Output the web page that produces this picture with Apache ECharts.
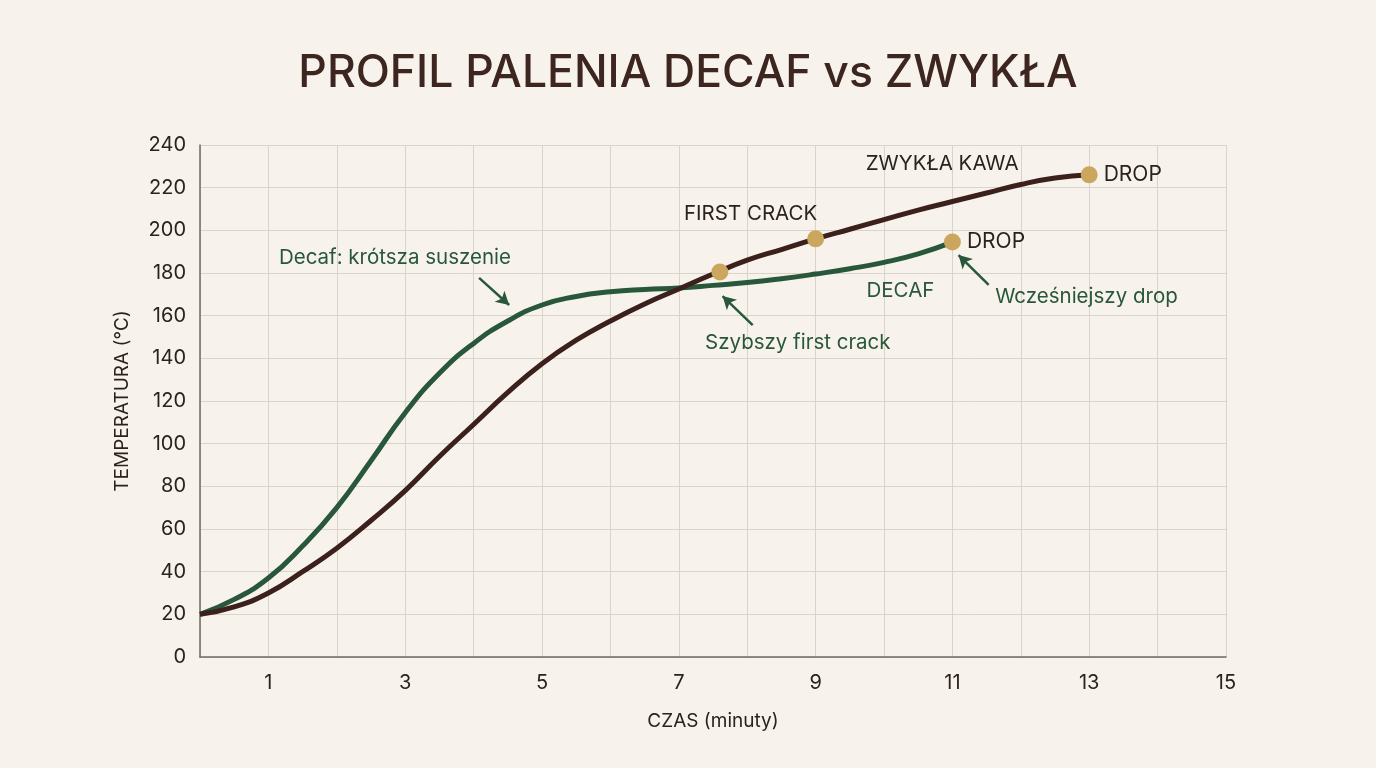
<!DOCTYPE html>
<html>
<head>
<meta charset="utf-8">
<script src="https://cdn.jsdelivr.net/npm/echarts@6/dist/echarts.min.js"></script>
<style>
  html, body { margin: 0; padding: 0; background: #f7f3ec; }
  #chart { width: 1376px; height: 768px; }
</style>
</head>
<body>
<div id="chart"></div>
<script>
// czas (minuty) / temperatura (°C), co pół minuty
const regularX = [0, 0.5, 1, 1.5, 2, 2.5, 3, 3.5, 4, 4.5, 5, 5.5, 6, 6.5, 7, 7.5, 8, 8.5, 9, 9.5, 10, 10.5, 11, 11.5, 12, 12.5, 13]
const regularY = [20, 23.5, 30, 40, 51, 64, 78, 94, 109, 124, 137.5, 148.5, 157.5, 165.5, 172.5, 179.5, 186, 191, 196, 200.5, 205, 209.5, 213.5, 217.5, 221.5, 224.5, 226]

const decafX = [0, 0.5, 1, 1.5, 2, 2.5, 3, 3.5, 4, 4.5, 5, 5.5, 6, 6.5, 7, 7.5, 8, 8.5, 9, 9.5, 10, 10.5, 11]
const decafY = [20, 27, 37, 52, 70, 92, 114.5, 133, 147, 157.5, 165, 169, 171.2, 172.3, 173, 174.2, 175.5, 177.3, 179.5, 182, 185, 189, 194.5]

// punkty: first crack decaf, first crack zwykła, drop decaf, drop zwykła
const markerX = [7.6, 9, 11, 13]
const markerY = [180.5, 196, 194.5, 226]
const markerText = ['', '', 'DROP', 'DROP']

const darkNoteText = ['ZWYKŁA KAWA', 'FIRST CRACK']
const darkNoteX = [10.85, 8.05]
const darkNoteY = [231, 207.5]

const greenNoteText = ['Decaf: krótsza suszenie', 'DECAF', 'Wcześniejszy drop', 'Szybszy first crack']
const greenNoteX = [2.85, 10.24, 12.96, 8.74]
const greenNoteY = [187, 171.6, 168.8, 147.2]

// strzałki: [x0, y0, x1, y1]
const arrows = [
  [4.08, 177.7, 4.52, 165],
  [8.08, 155.6, 7.64, 169.2],
  [11.53, 174.4, 11.09, 188.4],
]

const xTicks = [1, 3, 5, 7, 9, 11, 13, 15]

const BROWN = '#3b201b'
const GREEN = '#28573b'
const GOLD = '#cba65e'
const TEXT = '#2b211e'
const FONT = 'Inter, "Noto Sans", sans-serif'

function zip(xs, ys) {
  return xs.map((x, i) => [x, ys[i]])
}

const chartDom = document.getElementById('chart')
const myChart = echarts.init(chartDom)

const option = {
  backgroundColor: '#f7f3ec',
  animation: false,
  textStyle: { fontFamily: FONT },
  title: {
    text: 'PROFIL PALENIA DECAF vs ZWYKŁA',
    left: 'center',
    top: 46,
    textStyle: {
      fontFamily: FONT,
      fontSize: 44.5,
      fontWeight: 500,
      color: '#3d2620'
    }
  },
  grid: {
    left: 200,
    right: 150,
    top: 145,
    bottom: 111
  },
  xAxis: {
    type: 'value',
    min: 0,
    max: 15,
    interval: 1,
    name: 'CZAS (minuty)',
    nameLocation: 'middle',
    nameGap: 55,
    nameTextStyle: { fontSize: 19, color: TEXT, fontFamily: FONT },
    axisLine: { lineStyle: { color: '#6f6a63', width: 1.5 } },
    axisTick: { show: false },
    axisLabel: {
      margin: 16,
      fontSize: 20,
      color: TEXT,
      fontFamily: FONT,
      formatter: function (v) {
        return xTicks.indexOf(v) >= 0 ? String(v) : ''
      }
    },
    splitLine: { show: true, lineStyle: { color: '#d9d4c9', width: 1 } }
  },
  yAxis: {
    type: 'value',
    min: 0,
    max: 240,
    interval: 20,
    name: 'TEMPERATURA (°C)',
    nameLocation: 'middle',
    nameGap: 68,
    nameTextStyle: { fontSize: 19, color: TEXT, fontFamily: FONT },
    axisLine: { show: true, lineStyle: { color: '#6f6a63', width: 1.5 } },
    axisTick: { show: false },
    axisLabel: { margin: 14, fontSize: 20, color: TEXT, fontFamily: FONT },
    splitLine: { show: true, lineStyle: { color: '#d9d4c9', width: 1 } }
  },
  series: [
    {
      name: 'DECAF',
      type: 'line',
      data: zip(decafX, decafY),
      smooth: 0.5,
      symbol: 'none',
      lineStyle: { color: GREEN, width: 5 },
      z: 3,
      markLine: {
        silent: true,
        symbol: ['none', 'arrow'],
        symbolSize: [11, 13],
        label: { show: false },
        lineStyle: { color: GREEN, width: 2.5, type: 'solid' },
        data: arrows.map(a => [{ coord: [a[0], a[1]] }, { coord: [a[2], a[3]] }])
      }
    },
    {
      name: 'ZWYKŁA KAWA',
      type: 'line',
      data: zip(regularX, regularY),
      smooth: 0.5,
      symbol: 'none',
      lineStyle: { color: BROWN, width: 5 },
      z: 4
    },
    {
      name: 'punkty',
      type: 'scatter',
      data: markerX.map((x, i) => ({ value: [x, markerY[i]], name: markerText[i] })),
      symbolSize: 17,
      itemStyle: { color: GOLD, opacity: 1 },
      z: 6,
      label: {
        show: true,
        position: 'right',
        distance: 6,
        fontSize: 21,
        color: TEXT,
        fontFamily: FONT,
        formatter: p => p.data.name
      }
    },
    {
      name: 'opisy',
      type: 'scatter',
      data: darkNoteX.map((x, i) => ({ value: [x, darkNoteY[i]], name: darkNoteText[i] })),
      symbolSize: 0,
      silent: true,
      itemStyle: { opacity: 1 },
      z: 7,
      label: {
        show: true,
        position: 'inside',
        fontSize: 20.5,
        color: TEXT,
        fontFamily: FONT,
        formatter: p => p.data.name
      }
    },
    {
      name: 'opisy decaf',
      type: 'scatter',
      data: greenNoteX.map((x, i) => ({ value: [x, greenNoteY[i]], name: greenNoteText[i] })),
      symbolSize: 0,
      silent: true,
      itemStyle: { opacity: 1 },
      z: 7,
      label: {
        show: true,
        position: 'inside',
        fontSize: 20.5,
        color: GREEN,
        fontFamily: FONT,
        formatter: p => p.data.name
      }
    }
  ]
}

myChart.setOption(option)
</script>
</body>
</html>
